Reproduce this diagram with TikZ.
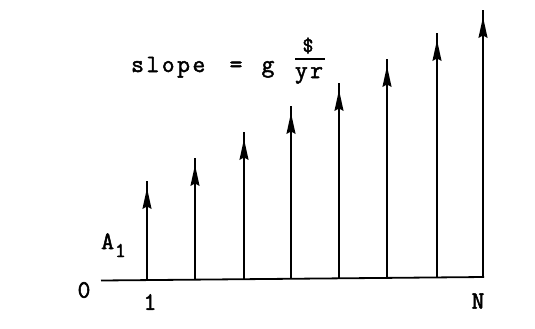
\documentclass[tikz,border=0pt]{standalone}
\usepackage{fontspec}
\newfontfamily\twfont[LetterSpace=10,FakeBold=2]{Latin Modern Mono}
\begin{document}
\begin{tikzpicture}[x=1bp,y=-1bp,
  lbl/.style={inner sep=0pt,font=\twfont\fontsize{25}{25}\selectfont},
  stem/.style={line width=1.8bp,black},
  axisline/.style={line width=1.8bp,black}]
\useasboundingbox (0,0) rectangle (535,328);
% axis
\coordinate (aL) at (101,280.5);
\coordinate (aR) at (484,277);
\draw[axisline] (aL) -- (aR);
% arrows
\foreach \i/\x/\t/\b in {1/147/181/280.1,2/195/158/279.6,3/244/132/279.2,4/291/106/278.8,5/339/83/278.3,6/387/59/277.9,7/437/33/277.4,8/483/10/277}{
  \coordinate (b\i) at (\x,\b);
  \coordinate (t\i) at (\x,\t);
  \draw[stem] (b\i) -- (t\i);
  \fill (\x-4.6,\t+28) -- (\x,\t+7) -- (\x+4.6,\t+28) -- (\x,\t+25.5) -- cycle;
}
% labels
\node[lbl,anchor=base west] (slope) at (131,72) {slope};
\node[lbl,anchor=base] (eq) at (236,72) {=};
\node[lbl,anchor=base] (g) at (268,72) {g};
\node[lbl,anchor=base,font=\twfont\fontsize{21}{21}\selectfont] (dollar) at (308,52) {\$};
\coordinate (barL) at (295,59);
\coordinate (barR) at (325,59);
\draw[line width=1.2bp] (barL) -- (barR);
\node[lbl,anchor=base] (yr) at (309,78) {yr};
\node[lbl,anchor=base west] (A1) at (101,249) {A\kern1bp\raisebox{-8bp}{\fontsize{21}{21}\selectfont 1}};
\node[lbl] (zero) at (84,290) {0};
\node[lbl] (one) at (150,302) {1};
\node[lbl] (N) at (478,301) {N};
\end{tikzpicture}
\end{document}
